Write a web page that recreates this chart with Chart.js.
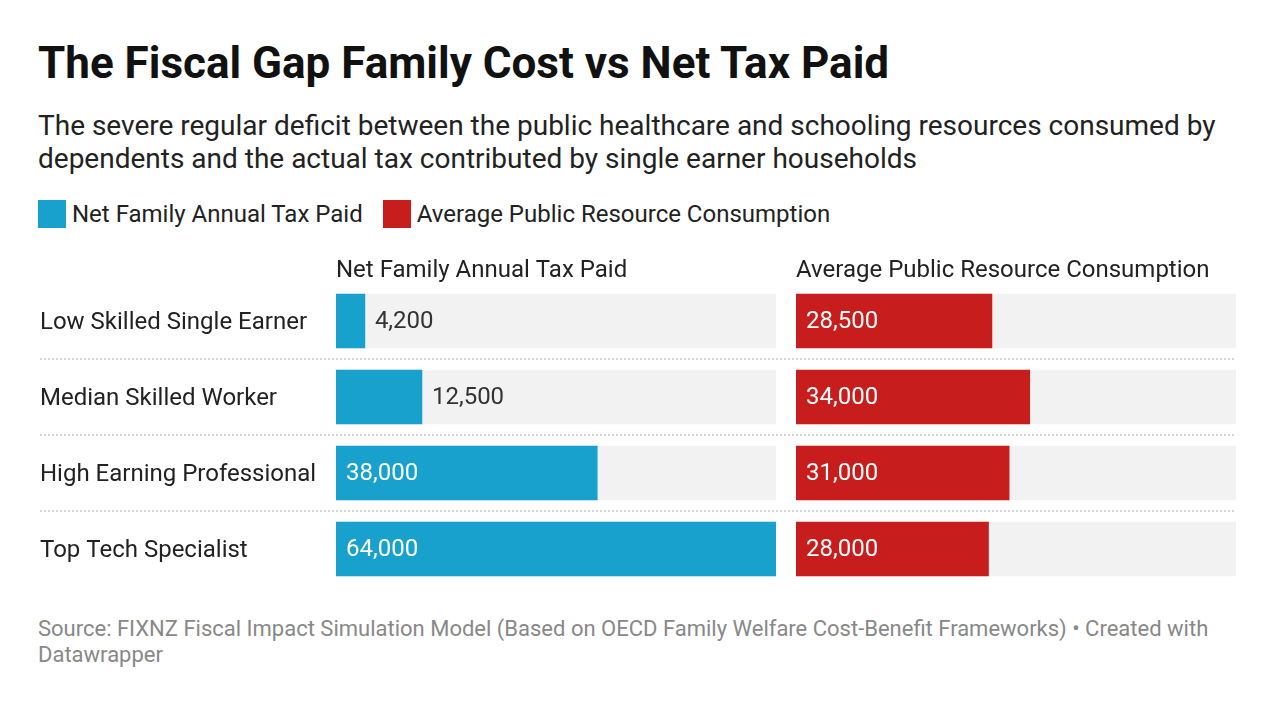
<!DOCTYPE html>
<html>
<head>
<meta charset="utf-8">
<script src="https://cdn.jsdelivr.net/npm/chart.js@4"></script>
<style>
  body { margin: 0; width: 1276px; height: 706px; background: #fff; font-family: Roboto, sans-serif; position: relative; overflow: hidden; }
  .abs { position: absolute; }
  #title { left: 38px; top: 37px; font-size: 44px; line-height: 52px; font-weight: 700; color: #111; white-space: nowrap; }
  #sub { left: 38px; top: 109px; width: 1220px; font-size: 28px; line-height: 33px; color: #222; }
  #legend { left: 38px; top: 200px; display: flex; align-items: center; font-size: 24px; line-height: 28px; color: #222; }
  #legend .sw { width: 28px; height: 28px; margin-right: 6px; }
  #legend .item { display: flex; align-items: center; margin-right: 20px; }
  #foot { left: 38px; top: 616px; width: 1200px; font-size: 22px; line-height: 26px; color: #888; }
  canvas { position: absolute; top: 249px; }
</style>
</head>
<body>
<div id="title" class="abs">The Fiscal Gap Family Cost vs Net Tax Paid</div>
<div id="sub" class="abs">The severe regular deficit between the public healthcare and schooling resources consumed by dependents and the actual tax contributed by single earner households</div>
<div id="legend" class="abs"></div>
<canvas id="left" width="776" height="341" style="left:0"></canvas>
<canvas id="right" width="500" height="341" style="left:776px"></canvas>
<div id="foot" class="abs">Source: FIXNZ Fiscal Impact Simulation Model (Based on OECD Family Welfare Cost-Benefit Frameworks) • Created with Datawrapper</div>

<script>
const $ = (sel) => document.querySelector(sel);

const categories  = ['Low Skilled Single Earner', 'Median Skilled Worker', 'High Earning Professional', 'Top Tech Specialist'];
const seriesNames = ['Net Family Annual Tax Paid', 'Average Public Resource Consumption'];
const taxPaid     = [4200, 12500, 38000, 64000];
const consumption = [28500, 34000, 31000, 28000];
const X_MAX       = 64000;   // both panels share the same scale

const BLUE  = '#18a1cd';
const RED   = '#c71e1d';
const TRACK = '#f2f2f2';

Chart.defaults.font.family = 'Roboto';
Chart.defaults.color = '#222';

/* ---------- legend ---------- */
$('#legend').innerHTML = seriesNames
    .map((n, i) => `<div class="item"><div class="sw" style="background:${[BLUE, RED][i]}"></div>${n}</div>`)
    .join('');

/* ---------- plugins ---------- */
// dotted separators between rows
const rowRules = {
    id: 'rowRules',
    beforeDatasetsDraw(chart, args, opts) {
        const { ctx } = chart;
        const y = chart.scales.y;
        const x1 = opts.toRight ? chart.chartArea.right : chart.width;
        ctx.save();
        ctx.strokeStyle = '#d6d6d6';
        ctx.lineWidth = 2;
        ctx.setLineDash([2, 2]);
        for (let i = 1; i < categories.length; i++) {
            const py = Math.round((y.getPixelForValue(i - 1) + y.getPixelForValue(i)) / 2);
            ctx.beginPath();
            ctx.moveTo(opts.from, py);
            ctx.lineTo(x1, py);
            ctx.stroke();
        }
        ctx.restore();
    }
};

// value labels: inside (white) when the bar is wide enough, else after the bar
const valueLabels = {
    id: 'valueLabels',
    afterDatasetsDraw(chart) {
        const { ctx } = chart;
        const meta = chart.getDatasetMeta(0);
        const data = chart.data.datasets[0].data;
        ctx.save();
        ctx.font = '24px Roboto';
        ctx.textBaseline = 'middle';
        ctx.textAlign = 'left';
        meta.data.forEach((bar, i) => {
            const txt = data[i].toLocaleString('en-US');
            const w = ctx.measureText(txt).width;
            const bw = bar.x - bar.base;
            if (bw > w * 2) {
                ctx.fillStyle = '#fff';
                ctx.fillText(txt, bar.base + 10, bar.y + 1);
            } else {
                ctx.fillStyle = '#333';
                ctx.fillText(txt, bar.x + 10, bar.y + 1);
            }
        });
        ctx.restore();
    }
};

/* ---------- panel ---------- */
function panel(el, values, color, name, showLabels, padding, rules) {
    return new Chart($(el), {
        type: 'bar',
        data: {
            labels: categories,
            datasets: [
                { data: values, backgroundColor: color, barThickness: 54, grouped: false, order: 0 },
                { data: categories.map(() => X_MAX), backgroundColor: TRACK, barThickness: 54, grouped: false, order: 1 }
            ]
        },
        options: {
            indexAxis: 'y',
            responsive: false,
            animation: false,
            layout: { padding },
            plugins: {
                legend: { display: false },
                tooltip: { enabled: false },
                title: {
                    display: true, text: name, align: 'start', fullSize: false,
                    font: { size: 24, weight: 'normal', lineHeight: 1 }, color: '#222',
                    padding: { top: 10, bottom: 0 }
                },
                rowRules: rules
            },
            scales: {
                x: { min: 0, max: X_MAX, display: false },
                y: {
                    display: showLabels,
                    grid: { display: false },
                    border: { display: false },
                    ticks: { crossAlign: 'far', font: { size: 24 }, color: '#222', padding: 0, labelOffset: 2 },
                    afterFit: (s) => {
                        if (showLabels) s.width = 296;
                        s.paddingTop = 0;      // keep chart area same height in both panels
                        s.paddingBottom = 0;
                    }
                }
            }
        },
        plugins: [rowRules, valueLabels]
    });
}

panel('#left',  taxPaid,     BLUE, seriesNames[0], true,  { left: 40, right: 0,  top: 0, bottom: 3 }, { from: 40, toRight: false });
panel('#right', consumption, RED,  seriesNames[1], false, { left: 20, right: 40, top: 0, bottom: 3 }, { from: 0,  toRight: true });
</script>
</body>
</html>
